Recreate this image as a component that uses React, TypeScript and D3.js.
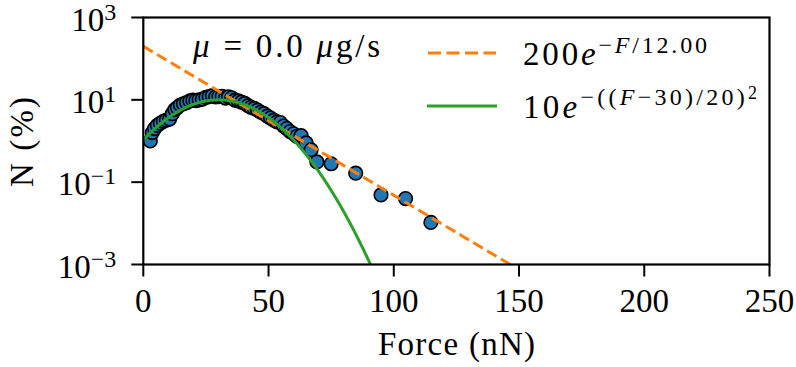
import React, { useRef, useEffect } from "react";
import * as d3 from "d3";

// measured force histogram (nN, %)
const forceValues = [
  2.8, 3.6, 4.5, 5.6, 6.8, 8.0, 9.2, 10.5, 11.6, 12.6, 13.6, 14.8, 16.0, 17.3,
  18.6, 19.8, 21.0, 22.3, 23.6, 25.0, 26.3, 27.6, 28.9, 30.2, 31.5, 32.8, 34.0,
  35.3, 36.6, 37.9, 39.2, 40.5, 41.8, 43.0, 44.3, 45.6, 46.9, 48.2, 49.5, 50.8,
  52.1, 53.4, 54.7, 56.0, 57.3, 58.6, 60.0, 61.3, 63.0, 65.0, 67.0, 69.3, 75.0,
  84.8, 94.9, 104.7, 114.8,
];
const countValues = [
  1.0, 1.6, 2.0, 2.4, 2.7, 3.0, 3.2, 3.4, 4.6, 5.8, 6.5, 7.5, 8.0, 8.6,
  9.4, 9.8, 9.6, 10.0, 10.4, 11.5, 12.0, 12.6, 11.8, 12.0, 12.2, 11.0, 11.8,
  11.2, 9.8, 9.4, 8.8, 8.2, 7.2, 6.6, 6.2, 5.6, 5.0, 4.6, 4.0, 3.6,
  3.2, 2.9, 2.8, 2.3, 2.0, 1.7, 1.5, 1.3, 1.35, 0.9, 0.61, 0.31, 0.28,
  0.165, 0.049, 0.040, 0.0105,
];

const xTicks = [0, 50, 100, 150, 200, 250];
const yTickExps = [-3, -1, 1, 3];

// fit parameters shown in the legend
const expAmp = 200;
const expScale = 12.0;
const gaussAmp = 10;
const gaussCenter = 30;
const gaussWidth = 20;

const W = 796;
const H = 367;
const margin = { top: 17.5, right: 26.5, bottom: 102.5, left: 143.3 };
const FONT = "Liberation Serif, DejaVu Serif, serif";
const FS = 33;

export default function App() {
  const ref = useRef<SVGSVGElement>(null);

  useEffect(() => {
    const svg = d3.select(ref.current);
    svg.selectAll("*").remove();

    const x = d3.scaleLinear().domain([0, 250]).range([margin.left, W - margin.right]);
    const y = d3.scaleLog().domain([1e-3, 1e3]).range([H - margin.bottom, margin.top]);

    svg.append("defs").append("clipPath").attr("id", "plot-clip")
      .append("rect")
      .attr("x", x(0)).attr("y", y(1e3))
      .attr("width", x(250) - x(0)).attr("height", y(1e-3) - y(1e3));

    const plot = svg.append("g").attr("clip-path", "url(#plot-clip)");

    // data points
    plot.selectAll("circle")
      .data(forceValues.map((f, i) => [f, countValues[i]]))
      .enter()
      .append("circle")
      .attr("cx", d => x(d[0]))
      .attr("cy", d => y(d[1]))
      .attr("r", 6.8)
      .attr("fill", "#1f77b4")
      .attr("stroke", "#000")
      .attr("stroke-width", 1.6);

    const fs = d3.range(0, 250.01, 0.25);
    const line = d3.line<number[]>()
      .x(d => x(d[0]))
      .y(d => y(Math.max(d[1], 1e-6)));

    plot.append("path")
      .attr("d", line(fs.map(f => [f, expAmp * Math.exp(-f / expScale)])))
      .attr("fill", "none")
      .attr("stroke", "#ff7f0e")
      .attr("stroke-width", 3)
      .attr("stroke-dasharray", "11,5");

    plot.append("path")
      .attr("d", line(fs.map(f => [f, gaussAmp * Math.exp(-Math.pow((f - gaussCenter) / gaussWidth, 2))])))
      .attr("fill", "none")
      .attr("stroke", "#2ca02c")
      .attr("stroke-width", 3);

    // spines
    svg.append("rect")
      .attr("x", x(0)).attr("y", y(1e3))
      .attr("width", x(250) - x(0)).attr("height", y(1e-3) - y(1e3))
      .attr("fill", "none")
      .attr("stroke", "#000")
      .attr("stroke-width", 2.2);

    // x ticks
    const xt = svg.append("g");
    xTicks.forEach(t => {
      xt.append("line")
        .attr("x1", x(t)).attr("x2", x(t))
        .attr("y1", y(1e-3)).attr("y2", y(1e-3) + 12)
        .attr("stroke", "#000").attr("stroke-width", 2);
      xt.append("text")
        .attr("x", x(t)).attr("y", y(1e-3) + 47)
        .attr("text-anchor", "middle")
        .attr("font-family", FONT).attr("font-size", FS)
        .text(t);
    });

    // y ticks
    const yt = svg.append("g");
    yTickExps.forEach(e => {
      const v = Math.pow(10, e);
      yt.append("line")
        .attr("x1", x(0) - 12).attr("x2", x(0))
        .attr("y1", y(v)).attr("y2", y(v))
        .attr("stroke", "#000").attr("stroke-width", 2);
      const txt = yt.append("text")
        .attr("x", x(0) - 27).attr("y", y(v) + 13)
        .attr("text-anchor", "end")
        .attr("font-family", FONT).attr("font-size", FS);
      txt.append("tspan").text("10");
      txt.append("tspan")
        .attr("dy", -11)
        .attr("font-size", 24)
        .text(e < 0 ? "\u2212" + Math.abs(e) : String(e));
    });

    // axis labels
    svg.append("text")
      .attr("x", 378).attr("y", 355)
      .attr("textLength", 157)
      .attr("font-family", FONT).attr("font-size", FS)
      .text("Force (nN)");

    svg.append("text")
      .attr("transform", `translate(33,187) rotate(-90)`)
      .attr("textLength", 90)
      .attr("font-family", FONT).attr("font-size", FS)
      .text("N (%)");

    // annotation
    const ann = svg.append("text")
      .attr("x", 193).attr("y", 57)
      .attr("textLength", 187)
      .attr("font-family", FONT).attr("font-size", FS);
    ann.append("tspan").attr("font-style", "italic").text("\u03bc");
    ann.append("tspan").text(" = 0.0 ");
    ann.append("tspan").attr("font-style", "italic").text("\u03bc");
    ann.append("tspan").text("g/s");

    // legend
    const leg = svg.append("g");
    leg.append("line")
      .attr("x1", 428).attr("x2", 496).attr("y1", 53).attr("y2", 53)
      .attr("stroke", "#ff7f0e").attr("stroke-width", 3)
      .attr("stroke-dasharray", "13,5.5");
    leg.append("line")
      .attr("x1", 427).attr("x2", 497).attr("y1", 106).attr("y2", 106)
      .attr("stroke", "#2ca02c").attr("stroke-width", 3);

    const l1 = leg.append("text")
      .attr("x", 523).attr("y", 65)
      .attr("textLength", 184)
      .attr("font-family", FONT).attr("font-size", FS);
    l1.append("tspan").text("200");
    l1.append("tspan").attr("font-style", "italic").text("e");
    const s1 = l1.append("tspan").attr("dy", -12).attr("font-size", 24);
    s1.append("tspan").text("\u2212");
    s1.append("tspan").attr("font-style", "italic").text("F");
    s1.append("tspan").text("/12.00");

    const l2 = leg.append("text")
      .attr("x", 523).attr("y", 118)
      .attr("textLength", 234)
      .attr("font-family", FONT).attr("font-size", FS);
    l2.append("tspan").text("10");
    l2.append("tspan").attr("font-style", "italic").text("e");
    const s2 = l2.append("tspan").attr("dy", -13).attr("font-size", 24);
    s2.append("tspan").text("\u2212((");
    s2.append("tspan").attr("font-style", "italic").text("F");
    s2.append("tspan").text("\u221230)/20)");
    l2.append("tspan").attr("dy", -6).attr("font-size", 18).text("2");
  }, []);

  return (
    <svg
      ref={ref}
      width={W}
      height={H}
      style={{ position: "absolute", left: 0, top: 0, background: "#fff" }}
    />
  );
}
